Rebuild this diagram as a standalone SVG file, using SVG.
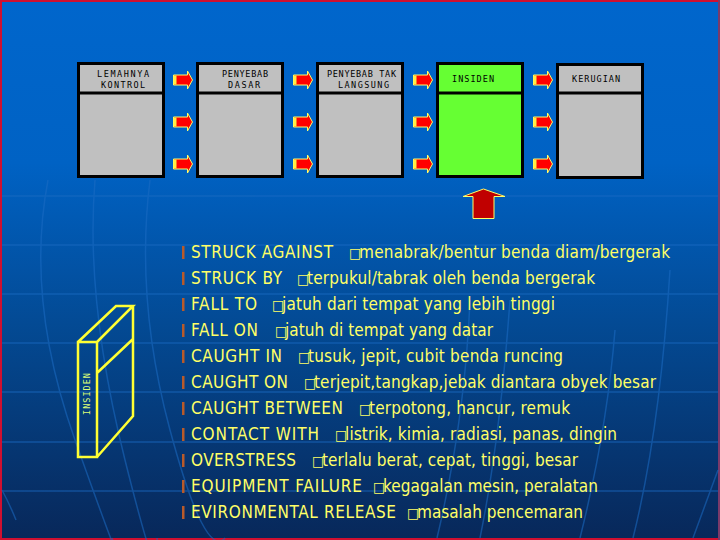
<svg xmlns="http://www.w3.org/2000/svg" width="720" height="540" viewBox="0 0 720 540">
<style>
.box{stroke:#000;stroke-width:3}
.grey{fill:#c0c0c0}.green{fill:#66ff33}
.hd{font-family:"DejaVu Sans Mono",monospace;font-size:8.5px;fill:#000}
.ln{font-family:"DejaVu Sans",sans-serif;font-stretch:condensed;font-size:17px;fill:#ffff66}
.bar{fill:#b85a2a}
.grid{fill:none;stroke:#1c6cc4;stroke-width:1.5;opacity:.55}
.tofu{font-size:14px}
</style>
<defs>
<linearGradient id="bg" x1="0" y1="0" x2="0" y2="1"><stop offset="0" stop-color="#0066cc"/><stop offset=".3" stop-color="#0062c4"/><stop offset=".6" stop-color="#034a94"/><stop offset="1" stop-color="#08285a"/></linearGradient>
<g id="ar"><path d="M0 -5H14V-9L19 0L14 9V5H0Z" fill="#ff0000" stroke="#ffff66" stroke-width="1"/><rect x="0" y="-4.500" width="3" height="9" fill="#ffee44"/></g>
</defs>
<rect width="720" height="540" fill="#d01030"/>
<rect x="2" y="2" width="716" height="536" fill="url(#bg)"/>
<rect x="718" y="0" width="2" height="540" fill="#7a3a6a"/>
<g class="grid">
<path d="M2 196H718M2 245H718M2 294H718M2 343H718M2 392H718M2 442H718M2 491H718"/>
<path d="M48 180Q25 300 75 440T112 538M95 180Q85 300 125 460T157 538M150 180Q135 300 170 430T225 538M2 490Q10 505 16 520"/>
<path d="M437 538Q465 420 470 300M480 538Q500 440 510 300M580 538Q607 430 615 330M633 538Q660 430 670 270M693 538L718 470"/>
</g>
<g id="lemahnya"><rect class="box grey" x="78.500" y="63.500" width="85" height="113"/><path class="box" d="M78 93H164"/><text class="hd" x="97" y="76.500" textLength="52">LEMAHNYA</text><text class="hd" x="101" y="87.500" textLength="44">KONTROL</text></g>
<g id="penyebab-dasar"><rect class="box grey" x="197.500" y="63.500" width="85" height="113"/><path class="box" d="M197 93H283"/><text class="hd" x="222" y="76.500" textLength="46">PENYEBAB</text><text class="hd" x="228" y="87.500" textLength="32">DASAR</text></g>
<g id="penyebab-tak"><rect class="box grey" x="317.500" y="63.500" width="85" height="113"/><path class="box" d="M317 93H403"/><text class="hd" x="327" y="76.500" textLength="69">PENYEBAB TAK</text><text class="hd" x="338" y="87.500" textLength="51">LANGSUNG</text></g>
<g id="insiden"><rect class="box green" x="437.500" y="63.500" width="85" height="113"/><path class="box" d="M437 93H523"/><text class="hd" x="452" y="82" textLength="42">INSIDEN</text></g>
<g id="kerugian"><rect class="box grey" x="557.500" y="64.500" width="85" height="113"/><path class="box" d="M557 93H643"/><text class="hd" x="572" y="82" textLength="48">KERUGIAN</text></g>
<g id="connectors">
<use href="#ar" x="173.500" y="80"/><use href="#ar" x="173.500" y="122"/><use href="#ar" x="173.500" y="164"/>
<use href="#ar" x="293.500" y="80"/><use href="#ar" x="293.500" y="122"/><use href="#ar" x="293.500" y="164"/>
<use href="#ar" x="413.500" y="80"/><use href="#ar" x="413.500" y="122"/><use href="#ar" x="413.500" y="164"/>
<use href="#ar" x="533.500" y="80"/><use href="#ar" x="533.500" y="122"/><use href="#ar" x="533.500" y="164"/>
<path d="M483.500 189L505 196.500H494V218.500H473V196.500H463Z" fill="#c00000" stroke="#ffff66" stroke-width="1"/>
</g>
<g id="book" fill="none" stroke="#ffff33" stroke-width="2.500">
<path d="M78 342H97V457H78ZM78 342L116 306H133L97 342M133 306V416L97 457M133 339L97 373"/>
<text transform="translate(90 415) rotate(-90)" font-family="DejaVu Sans Mono,monospace" font-size="8.500" textLength="42" fill="#ddff77" stroke="none">INSIDEN</text>
</g>
<g id="list">
<rect class="bar" x="182" y="246" width="2.500" height="13"/><text class="ln" x="191" y="258"><tspan textLength="142">STRUCK AGAINST</tspan><tspan class="tofu" x="349">□</tspan><tspan x="359" textLength="311">menabrak/bentur benda diam/bergerak</tspan></text>
<rect class="bar" x="182" y="272" width="2.500" height="13"/><text class="ln" x="191" y="284"><tspan textLength="91">STRUCK BY</tspan><tspan class="tofu" x="297">□</tspan><tspan x="307" textLength="288">terpukul/tabrak oleh benda bergerak</tspan></text>
<rect class="bar" x="182" y="298" width="2.500" height="13"/><text class="ln" x="191" y="310"><tspan textLength="66">FALL TO</tspan><tspan class="tofu" x="272">□</tspan><tspan x="282" textLength="273">jatuh dari tempat yang lebih tinggi</tspan></text>
<rect class="bar" x="182" y="324" width="2.500" height="13"/><text class="ln" x="191" y="336"><tspan textLength="67">FALL ON</tspan><tspan class="tofu" x="275">□</tspan><tspan x="285" textLength="208">jatuh di tempat yang datar</tspan></text>
<rect class="bar" x="182" y="350" width="2.500" height="13"/><text class="ln" x="191" y="362"><tspan textLength="91">CAUGHT IN</tspan><tspan class="tofu" x="298">□</tspan><tspan x="308" textLength="255">tusuk, jepit, cubit benda runcing</tspan></text>
<rect class="bar" x="182" y="376" width="2.500" height="13"/><text class="ln" x="191" y="388"><tspan textLength="97">CAUGHT ON</tspan><tspan class="tofu" x="304">□</tspan><tspan x="314" textLength="342">terjepit,tangkap,jebak diantara obyek besar</tspan></text>
<rect class="bar" x="182" y="402" width="2.500" height="13"/><text class="ln" x="191" y="414"><tspan textLength="152">CAUGHT BETWEEN</tspan><tspan class="tofu" x="359">□</tspan><tspan x="369" textLength="201">terpotong, hancur, remuk</tspan></text>
<rect class="bar" x="182" y="428" width="2.500" height="13"/><text class="ln" x="191" y="440"><tspan textLength="128">CONTACT WITH</tspan><tspan class="tofu" x="335">□</tspan><tspan x="345" textLength="272">listrik, kimia, radiasi, panas, dingin</tspan></text>
<rect class="bar" x="182" y="454" width="2.500" height="13"/><text class="ln" x="191" y="466"><tspan textLength="105">OVERSTRESS</tspan><tspan class="tofu" x="312">□</tspan><tspan x="322" textLength="256">terlalu berat, cepat, tinggi, besar</tspan></text>
<rect class="bar" x="182" y="480" width="2.500" height="13"/><text class="ln" x="191" y="492"><tspan textLength="171">EQUIPMENT FAILURE</tspan><tspan class="tofu" x="373">□</tspan><tspan x="383" textLength="215">kegagalan mesin, peralatan</tspan></text>
<rect class="bar" x="182" y="506" width="2.500" height="13"/><text class="ln" x="191" y="518"><tspan textLength="205">EVIRONMENTAL RELEASE</tspan><tspan class="tofu" x="407">□</tspan><tspan x="417" textLength="166">masalah pencemaran</tspan></text>
</g>
</svg>
